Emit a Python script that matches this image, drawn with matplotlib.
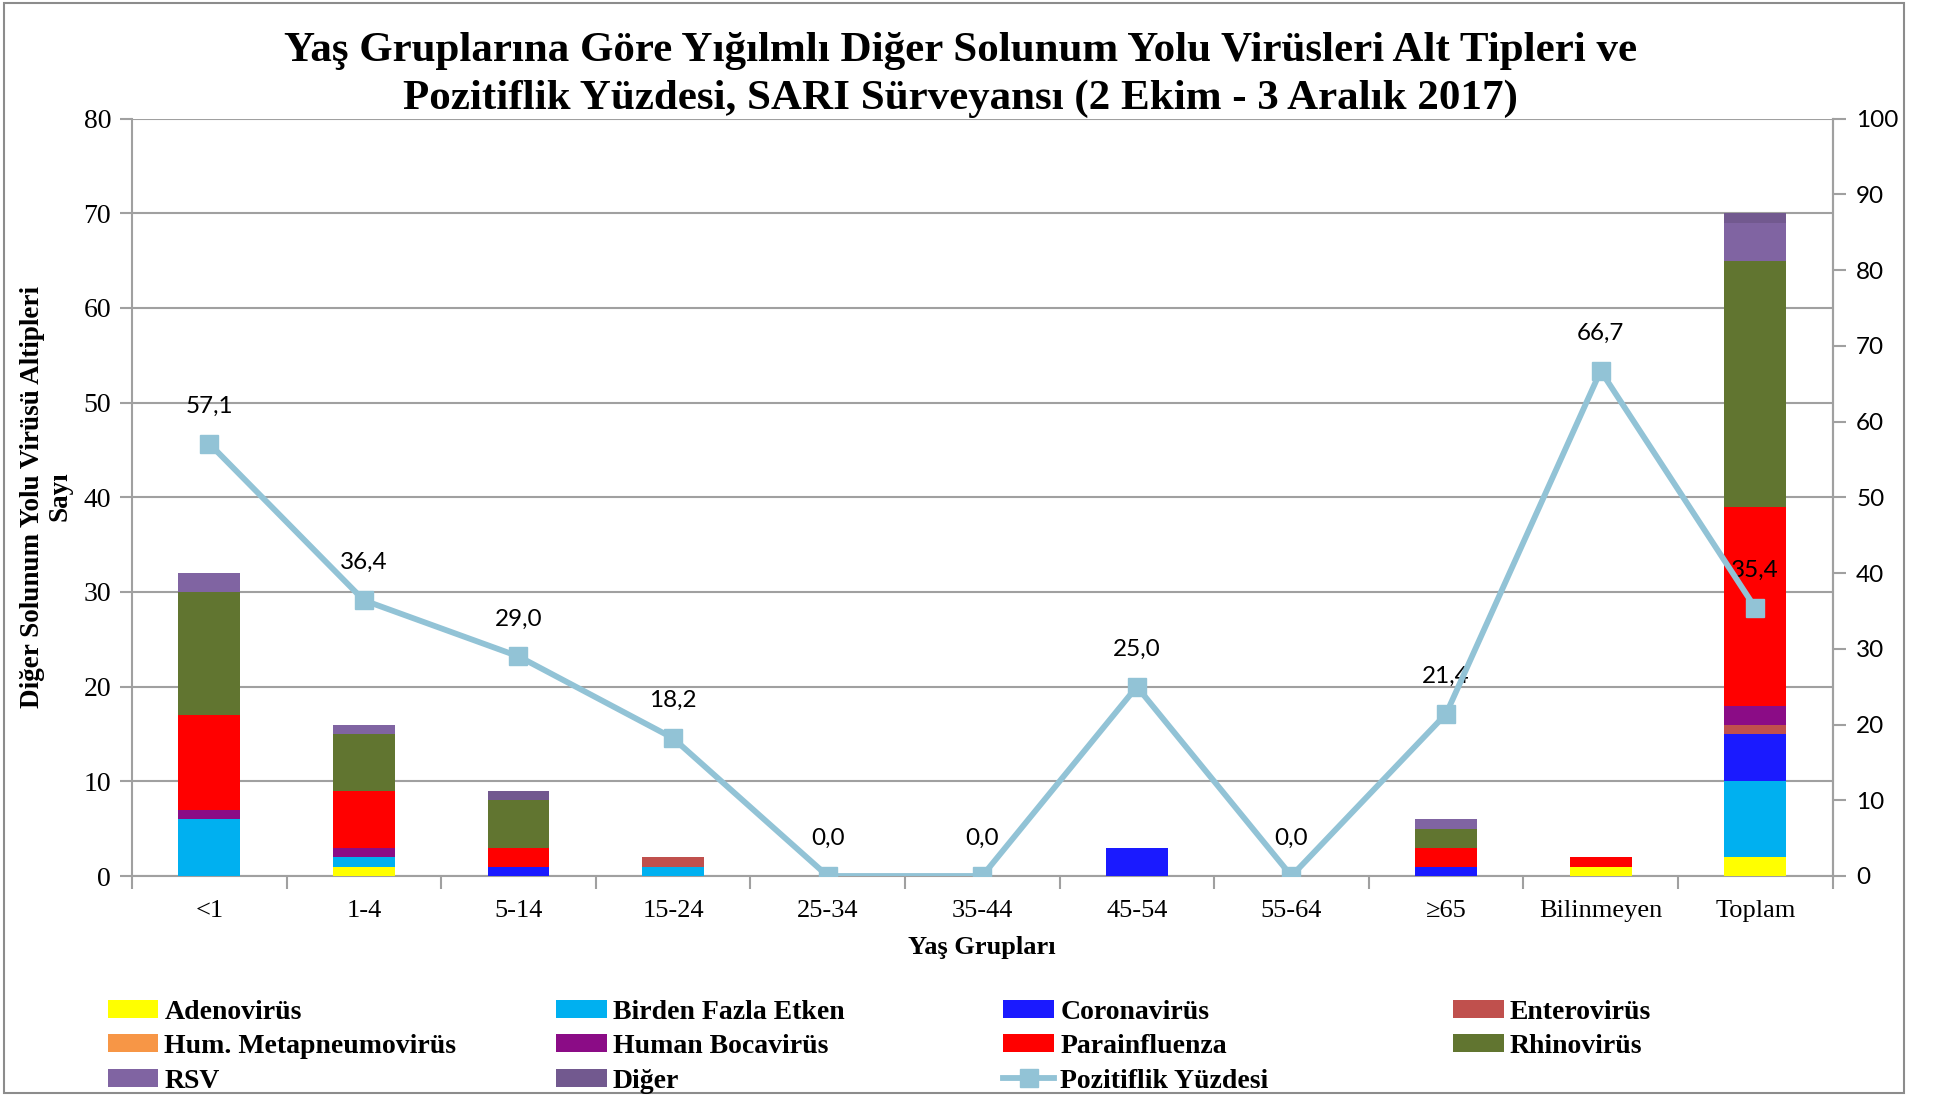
import numpy as np
import matplotlib.pyplot as plt
from matplotlib.patches import Rectangle
from matplotlib.lines import Line2D

# -------------------- Data --------------------
age_groups = ['<1', '1-4', '5-14', '15-24', '25-34', '35-44', '45-54', '55-64', '≥65', 'Bilinmeyen', 'Toplam']

adeno = [0, 1, 0, 0, 0, 0, 0, 0, 0, 1, 2]
birden = [6, 1, 0, 1, 0, 0, 0, 0, 0, 0, 8]
corona = [0, 0, 1, 0, 0, 0, 3, 0, 1, 0, 5]
entero = [0, 0, 0, 1, 0, 0, 0, 0, 0, 0, 1]
metapneumo = [0, 0, 0, 0, 0, 0, 0, 0, 0, 0, 0]
bocavirus = [1, 1, 0, 0, 0, 0, 0, 0, 0, 0, 2]
parainfluenza = [10, 6, 2, 0, 0, 0, 0, 0, 2, 1, 21]
rhino = [13, 6, 5, 0, 0, 0, 0, 0, 2, 0, 26]
rsv = [2, 1, 0, 0, 0, 0, 0, 0, 1, 0, 4]
diger = [0, 0, 1, 0, 0, 0, 0, 0, 0, 0, 1]

pozitiflik = [57.1, 36.4, 29.0, 18.2, 0.0, 0.0, 25.0, 0.0, 21.4, 66.7, 35.4]

series = [
    ('Adenovirüs', adeno, '#FFFF00'),
    ('Birden Fazla Etken', birden, '#00B0F0'),
    ('Coronavirüs', corona, '#1A1AFF'),
    ('Enterovirüs', entero, '#C0504D'),
    ('Hum. Metapneumovirüs', metapneumo, '#F79646'),
    ('Human Bocavirüs', bocavirus, '#8B0C86'),
    ('Parainfluenza', parainfluenza, '#FF0000'),
    ('Rhinovirüs', rhino, '#617530'),
    ('RSV', rsv, '#8064A2'),
    ('Diğer', diger, '#72598F'),
]
line_color = '#92C3D6'
grid_color = '#A0A0A0'
serif = 'Liberation Serif'
sans = 'Lato'
plt.rcParams['font.family'] = serif

# -------------------- Figure --------------------
fig = plt.figure(figsize=(19.37, 10.95), dpi=100)
ax = fig.add_axes([0.0681, 0.2, 0.878, 0.6917])
x = np.arange(len(age_groups))

bottom = np.zeros(len(age_groups))
handles = {}
for name, vals, color in series:
    vals = np.array(vals, dtype=float)
    bars = ax.bar(x, vals, 0.4, bottom=bottom, color=color, edgecolor='none', zorder=3)
    handles[name] = bars
    bottom += vals

ax.set_xlim(-0.5, len(age_groups) - 0.5)
ax.set_ylim(0, 80)
ax.set_yticks(range(0, 81, 10))
ax.yaxis.grid(True, color=grid_color, linewidth=1.5, zorder=0)
ax.set_axisbelow(True)
ax.set_xticks(x)
ax.set_xticklabels(age_groups, fontsize=19)
ax.set_xticks(np.arange(-0.5, len(age_groups)), minor=True)
ax.tick_params(axis='x', which='major', length=0, pad=17)
ax.tick_params(axis='x', which='minor', length=9, width=1.5, color=grid_color)
ax.tick_params(axis='y', length=9, width=1.5, color=grid_color, labelsize=20, pad=6)
for side in ['left', 'bottom', 'right']:
    ax.spines[side].set_color(grid_color)
    ax.spines[side].set_linewidth(1.5)
ax.spines['top'].set_visible(False)

# secondary axis: positivity percentage
ax2 = ax.twinx()
ax2.set_ylim(0, 100)
right_ticks = list(range(0, 101, 10))
ax2.set_yticks(right_ticks)
ax2.set_yticklabels([str(t) for t in right_ticks], fontfamily=sans, fontsize=17.5)
ax2.tick_params(axis='y', length=9, width=1.5, color=grid_color, pad=8)
for side in ['left', 'bottom', 'top']:
    ax2.spines[side].set_visible(False)
ax2.spines['right'].set_color(grid_color)
ax2.spines['right'].set_linewidth(1.5)

ax2.plot(x, pozitiflik, color=line_color, linewidth=4.2, marker='s', markersize=13,
         markerfacecolor=line_color, markeredgecolor=line_color, zorder=5)
for xi, v in zip(x, pozitiflik):
    ax2.annotate(f'{v:.1f}'.replace('.', ','), (xi, v), xytext=(0, 27), textcoords='offset points',
                 ha='center', va='center', fontsize=17.5, fontfamily=sans)

# -------------------- Texts --------------------
fig.text(0.496, 0.9313, 'Yaş Gruplarına Göre Yığılmlı Diğer Solunum Yolu Virüsleri Alt Tipleri ve\n'
         'Pozitiflik Yüzdesi, SARI Sürveyansı (2 Ekim - 3 Aralık 2017)',
         ha='center', va='center', fontsize=31, fontweight='bold', linespacing=1.32)
fig.text(0.507, 0.135, 'Yaş Grupları', ha='center', va='center', fontsize=19, fontweight='bold')
fig.text(0.0238, 0.5465, 'Diğer Solunum Yolu Virüsü Altipleri\nSayı', ha='center', va='center',
         rotation=90, fontsize=19.5, fontweight='bold', linespacing=1.1)

# -------------------- Legend (equal-width columns) --------------------
line_handle = Line2D([], [], color=line_color, linewidth=4.2, marker='s', markersize=13)
legend_cols = [
    ['Adenovirüs', 'Hum. Metapneumovirüs', 'RSV'],
    ['Birden Fazla Etken', 'Human Bocavirüs', 'Diğer'],
    ['Coronavirüs', 'Parainfluenza', 'Pozitiflik Yüzdesi'],
    ['Enterovirüs', 'Rhinovirüs'],
]
col_x = [0.0555, 0.287, 0.518, 0.750]
for names, cx in zip(legend_cols, col_x):
    hs = [line_handle if n == 'Pozitiflik Yüzdesi' else handles[n] for n in names]
    fig.legend(hs, names, loc='upper left', bbox_to_anchor=(cx, 0.087), frameon=False,
               prop={'family': serif, 'weight': 'bold', 'size': 20},
               handlelength=1.83, handleheight=0.62, handletextpad=0.22,
               labelspacing=0.34, borderpad=0, borderaxespad=0)

# figure border
fig.add_artist(Rectangle((0.002, 0.002), 0.981, 0.995, transform=fig.transFigure,
                         fill=False, edgecolor='#8C8C8C', linewidth=1.5))

plt.savefig('out.png', dpi=100)
